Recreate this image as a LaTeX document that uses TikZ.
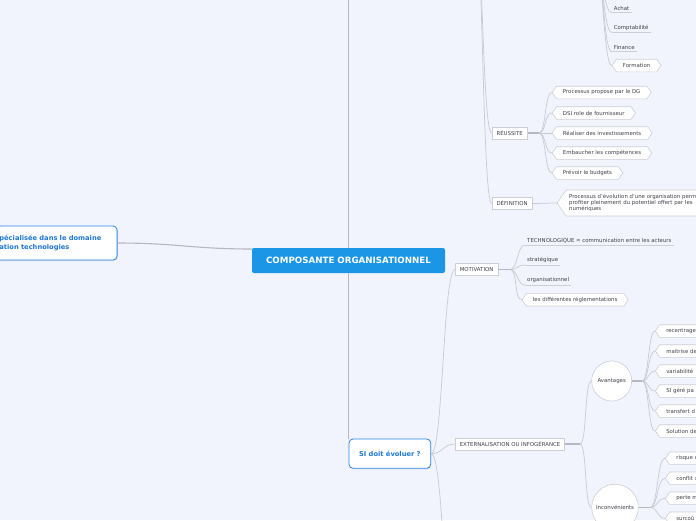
\documentclass[tikz,border=0pt]{standalone}
\usepackage{fontspec}
\setmainfont{DejaVu Sans}
\usetikzlibrary{shapes.symbols,shadows}
\definecolor{bg}{RGB}{241,244,252}
\definecolor{rootblue}{RGB}{27,150,230}
\definecolor{bluetxt}{RGB}{30,120,215}
\definecolor{blueb}{RGB}{45,135,230}
\definecolor{lin}{RGB}{200,202,210}
\definecolor{linD}{RGB}{182,184,192}
\definecolor{bord}{RGB}{205,207,215}
\definecolor{txt}{RGB}{65,65,75}
\begin{document}
\begin{tikzpicture}[x=1pt,y=-1pt,
 small/.style={font=\fontsize{5.4}{6.6}\selectfont, text=txt},
 boxn/.style={small, draw=bord, fill=white, line width=0.6pt, inner xsep=4.5pt, inner ysep=0pt, minimum height=12.4pt, anchor=west},
 hexn/.style={small, shape=signal, signal to=west and east, signal pointer angle=110, draw=bord, fill=white, line width=0.6pt, inner xsep=6.5pt, inner ysep=0pt, minimum height=12.6pt, anchor=west},
 cuthex/.style={hexn, text width=45pt, align=left},
 uln/.style={small, inner xsep=2pt, inner ysep=1.8pt, anchor=south west},
 ul/.style={draw=bord, line width=0.6pt},
 conn/.style={draw=lin, line width=0.7pt},
 stem/.style={draw=linD, line width=1.6pt},
 mainc/.style={draw=linD, line width=1.1pt},
 circn/.style={small, circle, draw=bord, fill=white, line width=0.6pt, inner sep=0pt},
 bubble/.style={draw=blueb, fill=white, line width=0.8pt, rounded corners=4pt, text=bluetxt, font=\bfseries\fontsize{6.7}{9.4}\selectfont, drop shadow={opacity=0.2, shadow xshift=0.4pt, shadow yshift=-1pt}},
]
\useasboundingbox (0,0) rectangle (696,520);
\fill[bg] (0,0) rectangle (696,520);
\clip (0,0) rectangle (696,520);

% named free ends
\coordinate (rtop) at (348.5,-20);
\coordinate (sidown) at (455,620);
\coordinate (thub) at (476,-60);
\coordinate (fhub) at (597,-30);
\coordinate (rhub) at (539,133);
\coordinate (mhub) at (510,269.5);
\coordinate (ehub) at (580,444);
\coordinate (ahub) at (642,381);
\coordinate (ihub) at (650,507.5);

% nodes
\node[fill=rootblue, rounded corners=2pt, minimum width=193pt, minimum height=25pt, inner sep=0pt, text=white, font=\bfseries\fontsize{8.7}{10}\selectfont] (root) at (348.5,260.5) {COMPOSANTE ORGANISATIONNEL};
\node[bubble, anchor=west, text width=114.7pt, align=left, inner xsep=3pt, minimum height=34pt] (lft) at (-4,243) {pécialisée dans le domaine\\ation technologies};
\node[bubble, minimum width=81.7pt, minimum height=29.3pt, inner sep=0pt] (si) at (389.85,453.65) {SI doit évoluer ?};

\node[boxn] (motiv) at (455,269.5) {MOTIVATION};
\node[boxn] (reuss) at (491.7,133) {RÉUSSITE};
\node[boxn] (defin) at (491.7,203.5) {DÉFINITION};
\node[boxn] (ext) at (455,444) {EXTERNALISATION OU INFOGÉRANCE};

\node[uln] (achat) at (611.7,12.7) {Achat};
\node[uln] (compta) at (611.7,32.3) {Comptabilité};
\node[uln] (fin) at (611.7,51.7) {Finance};
\node[hexn] (form) at (611.7,65.5) {Formation};

\node[hexn] (r1) at (551.7,92.5) {Processus propose par le DG};
\node[hexn] (r2) at (551.7,113) {DSI role de fournisseur};
\node[hexn] (r3) at (551.7,133) {Réaliser des investissements};
\node[hexn] (r4) at (551.7,153) {Embaucher les compétences};
\node[hexn] (r5) at (551.7,173) {Prévoir le budgets};

\node[hexn, minimum height=26pt, inner xsep=3pt, text width=160pt, align=left, font=\fontsize{5.4}{6.2}\selectfont] (d1) at (556.7,203) {Processus d'évolution d'une organisation perm\\profiter pleinement du potentiel offert par les\\numériques};

\node[uln] (tech) at (525,245) {TECHNOLOGIQUE = communication entre les acteurs};
\node[uln] (strat) at (525,265) {stratégique};
\node[uln] (orga) at (525,285) {organisationnel};
\node[hexn] (regl) at (521.7,299.7) {les différentes réglementations};

\node[circn, minimum size=40pt] (avant) at (611.7,381) {Avantages};
\node[circn, minimum size=46.6pt] (inconv) at (615,507.5) {Inconvénients};

\node[cuthex] (a1) at (655,331) {recentrage};
\node[cuthex] (a2) at (655,351) {maitrise de};
\node[cuthex] (a3) at (655,371) {variabilité};
\node[cuthex] (a4) at (655,391) {SI géré pa};
\node[cuthex] (a5) at (655,411) {transfert d};
\node[cuthex] (a6) at (655,431) {Solution de};

\node[cuthex] (i1) at (665,458.3) {risque d};
\node[cuthex] (i2) at (665,478.3) {conflit s};
\node[cuthex] (i3) at (665,498.3) {perte m};
\node[cuthex] (i4) at (665,518.3) {surcoû};

% underlines
\foreach \n in {achat,compta,fin,tech,strat,orga}
  \draw[ul] (\n.south west) -- (\n.south east);

% connectors
\begin{scope}[on background layer/.style={}]
\draw[mainc] (lft.east) .. controls +(60,0) and +(-60,0) .. ([yshift=-1.2pt]root.north west);
\draw[mainc] (root.north) -- (rtop);
\draw[mainc] (root.south) -- (root.south |- si.north);

\draw[conn] (si.east) .. controls +(12,0) and +(-12,0) .. (motiv.west);
\draw[conn] (si.east) .. controls +(12,0) and +(-12,0) .. (ext.west);
\draw[conn] (si.east) .. controls +(12,0) and +(-12,0) .. (sidown);

\draw[conn] (thub) .. controls +(7,0) and +(-9,0) .. (reuss.west);
\draw[conn] (thub) .. controls +(7,0) and +(-9,0) .. (defin.west);

\foreach \n in {achat,compta,fin}
  \draw[conn] (fhub) .. controls +(6,0) and +(-8,0) .. (\n.south west);
\draw[conn] (fhub) .. controls +(6,0) and +(-8,0) .. (form.west);

\draw[stem] (reuss.east) -- (rhub);
\foreach \n in {r1,r2,r3,r4,r5}
  \draw[conn] (rhub) .. controls +(7,0) and +(-7,0) .. (\n.west);

\draw[conn] (defin.east) .. controls +(10,0) and +(-10,0) .. (d1.west);

\draw[stem] (motiv.east) -- (mhub);
\foreach \n in {tech,strat,orga}
  \draw[conn] (mhub) .. controls +(8,0) and +(-8,0) .. (\n.south west);
\draw[conn] (mhub) .. controls +(8,0) and +(-8,0) .. (regl.west);

\draw[stem] (ext.east) -- (ehub);
\draw[conn] (ehub) .. controls +(7,0) and +(-7,0) .. (avant.west);
\draw[conn] (ehub) .. controls +(7,0) and +(-7,0) .. (inconv.west);

\draw[stem] (avant.east) -- (ahub);
\foreach \n in {a1,a2,a3,a4,a5,a6}
  \draw[conn] (ahub) .. controls +(7,0) and +(-7,0) .. (\n.west);

\draw[stem] (inconv.east) -- (ihub);
\foreach \n in {i1,i2,i3,i4}
  \draw[conn] (ihub) .. controls +(8,0) and +(-8,0) .. (\n.west);
\end{scope}
\end{tikzpicture}
\end{document}
